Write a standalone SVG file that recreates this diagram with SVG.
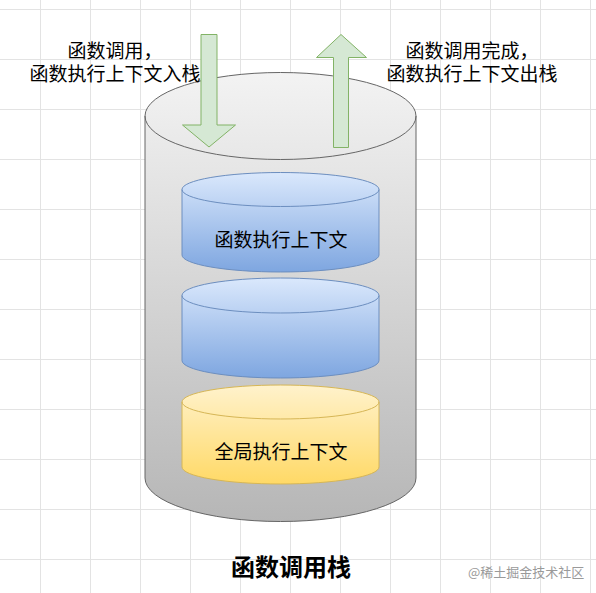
<svg xmlns="http://www.w3.org/2000/svg" width="596" height="593" viewBox="0 0 596 593">
<defs>
<pattern id="grid" x="0" y="0" width="50" height="50" patternUnits="userSpaceOnUse">
<path d="M40.5,0 V50 M0,9.5 H50" stroke="#e3e3e3" stroke-width="1" fill="none"/>
</pattern>
<linearGradient id="gGray" x1="0" y1="72" x2="0" y2="522" gradientUnits="userSpaceOnUse">
<stop offset="0" stop-color="#f3f3f3"/>
<stop offset="1" stop-color="#b6b6b6"/>
</linearGradient>
<linearGradient id="gBlue" x1="0" y1="0" x2="0" y2="1">
<stop offset="0" stop-color="#dae8fc"/>
<stop offset="1" stop-color="#7ea6e0"/>
</linearGradient>
<linearGradient id="gYellow" x1="0" y1="0" x2="0" y2="1">
<stop offset="0" stop-color="#fff2cc"/>
<stop offset="1" stop-color="#ffd966"/>
</linearGradient>
<style>
.txt{font-family:"Noto Sans CJK SC","Noto Sans",sans-serif;fill:#000;text-anchor:middle;dominant-baseline:central}
.lbl{font-size:19px}
.title{font-size:24px;font-weight:bold}
.wm{font-family:"Noto Sans CJK SC","Noto Sans",sans-serif;font-size:13px;fill:#9a9a9a}
.arrow{fill:#d5e8d4;stroke:#82b366;stroke-width:1}
.blue{fill:url(#gBlue);stroke:#6c8ebf;stroke-width:1}
.yellow{fill:url(#gYellow);stroke:#d6b656;stroke-width:1}
.rim{fill:none}
</style>
</defs>
<rect width="596" height="593" fill="#ffffff"/>
<rect width="596" height="593" fill="url(#grid)"/>

<g id="stack">
<path d="M145,116 L145,478 A135.5,43.5 0 0 0 416,478 L416,116 A135.5,43.5 0 0 0 145,116 Z" fill="url(#gGray)" stroke="#666666" stroke-width="1"/>
<path d="M145,116 A135.5,43.5 0 0 0 416,116" fill="none" stroke="#666666" stroke-width="1"/>
</g>

<g id="ctx1">
<path class="blue" d="M182,189.5 L182,255 A98.5,17 0 0 0 379,255 L379,189.5 A98.5,17 0 0 0 182,189.5 Z"/>
<path class="blue rim" d="M182,189.5 A98.5,17 0 0 0 379,189.5"/>
<text class="txt lbl" x="281" y="238">函数执行上下文</text>
</g>

<g id="ctx2">
<path class="blue" d="M182,295.5 L182,360.5 A98.5,17.5 0 0 0 379,360.5 L379,295.5 A98.5,17.5 0 0 0 182,295.5 Z"/>
<path class="blue rim" d="M182,295.5 A98.5,17.5 0 0 0 379,295.5"/>
</g>

<g id="global">
<path class="yellow" d="M182,402 L182,467 A98.5,17 0 0 0 379,467 L379,402 A98.5,17 0 0 0 182,402 Z"/>
<path class="yellow rim" d="M182,402 A98.5,17 0 0 0 379,402"/>
<text class="txt lbl" x="281" y="450">全局执行上下文</text>
</g>

<g id="connectors">
<polygon class="arrow" points="201,34.5 217,34.5 217,125 235.5,125 209,147 182.5,125 201,125"/>
<polygon class="arrow" points="341,34.5 366.5,57.5 348.5,57.5 348.5,147.5 333.5,147.5 333.5,57.5 316.5,57.5"/>
</g>

<g id="push-label">
<text class="txt lbl" x="115" y="49">函数调用，</text>
<text class="txt lbl" x="115" y="72">函数执行上下文入栈</text>
</g>

<g id="pop-label">
<text class="txt lbl" x="472" y="49">函数调用完成，</text>
<text class="txt lbl" x="472" y="72">函数执行上下文出栈</text>
</g>

<g id="title">
<text class="txt title" x="291" y="565">函数调用栈</text>
</g>

<text class="wm" x="468" y="577">@稀土掘金技术社区</text>
</svg>
